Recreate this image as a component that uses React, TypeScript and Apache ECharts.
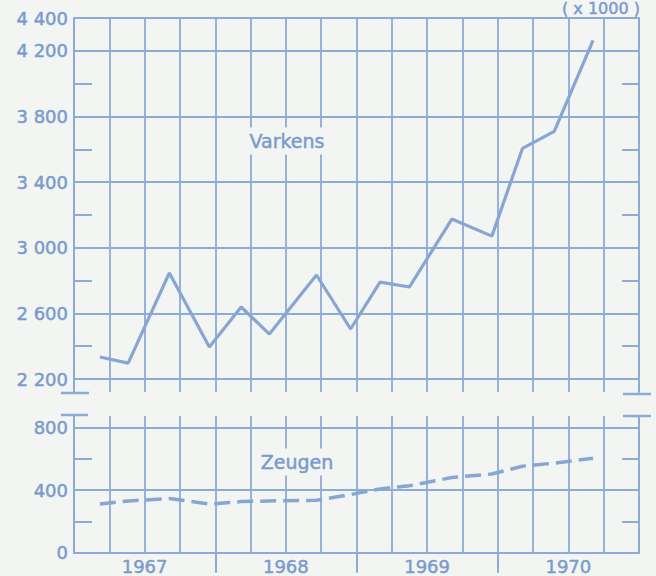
import React, { useEffect, useRef } from "react";
import * as echarts from "echarts";

// months since 1 Jan 1967 of each census
const censusMonth = [2.2, 4.6, 8.1, 11.5, 14.2, 16.6, 20.6, 23.5, 26.0, 28.5, 32.1, 35.5, 38.1, 40.8, 44.1];
// pigs (x 1000)
const varkens = [2334, 2297, 2846, 2395, 2639, 2474, 2834, 2505, 2791, 2761, 3175, 3071, 3605, 3709, 4263];
// sows (x 1000)
const zeugen = [311, 331, 347, 311, 327, 331, 335, 372, 408, 428, 481, 503, 553, 573, 604];

const years = ["1967", "1968", "1969", "1970"];
const yearCenters = [6, 18, 30, 42];
const yearBounds = [12, 24, 36];
const varkensTicks = [2200, 2600, 3000, 3400, 3800, 4200, 4400];
const varkensMinor = [2400, 2800, 3200, 3600, 4000];
const zeugenTicks = [0, 400, 800];
const zeugenMinor = [200, 600];

const BG = "#f3f5f2";
const GRID = "#8dabd7";
const LINE = "#87a6d3";
const TEXT = "#7b9bcd";
const FONT = "DejaVu Sans";

const fmt = (v: number) =>
  v >= 1000 ? Math.floor(v / 1000) + " " + String(v % 1000).padStart(3, "0") : String(v);

const labelStyle = {
  color: TEXT,
  fontFamily: FONT,
  fontSize: 18,
  textBorderColor: TEXT,
  textBorderWidth: 0.5,
};

export default function App() {
  const ref = useRef<HTMLDivElement>(null);
  useEffect(() => {
    if (!ref.current) return;
    const chart = echarts.init(ref.current, null, { renderer: "svg" });
    const yLeft = (grid: number, min: number, max: number, labels: number[], minor: number[]) => ({
      type: "value",
      gridIndex: grid,
      min,
      max,
      position: "left",
      axisLine: { show: true, onZero: false, lineStyle: { color: GRID, width: 2 } },
      axisTick: { show: true, inside: true, length: 18, customValues: minor, lineStyle: { color: GRID, width: 2 } },
      axisLabel: {
        show: true,
        customValues: labels,
        formatter: (v: number) => fmt(v),
        margin: 6,
        ...labelStyle,
      },
      splitLine: { show: false },
    });
    const yRight = (grid: number, min: number, max: number, minor: number[]) => ({
      type: "value",
      gridIndex: grid,
      min,
      max,
      position: "right",
      axisLine: { show: true, onZero: false, lineStyle: { color: GRID, width: 2 } },
      axisTick: { show: true, inside: true, length: 17, customValues: minor, lineStyle: { color: GRID, width: 2 } },
      axisLabel: { show: false },
      splitLine: { show: false },
    });
    const hLines = (vals: number[]) => ({
      silent: true,
      symbol: ["none", "none"],
      label: { show: false },
      lineStyle: { color: GRID, width: 1.8, type: "solid" },
      emphasis: { disabled: true },
      data: vals.map((v) => ({ yAxis: v })),
    });
    const textEl = (text: string, x: number, y: number, size: number, bg: boolean) => ({
      type: "text",
      x,
      y,
      z: 5,
      style: {
        text,
        fill: TEXT,
        font: `${size}px "${FONT}"`,
        align: "center",
        verticalAlign: "middle",
        stroke: TEXT,
        lineWidth: 0.5,
        ...(bg ? { backgroundColor: BG, padding: [4, 5] } : {}),
      },
    });
    chart.setOption({
      animation: false,
      backgroundColor: BG,
      grid: [
        { left: 74, right: 17, top: 18, bottom: 184 },
        { left: 74, right: 17, top: 416, bottom: 18 },
      ],
      xAxis: [
        {
          type: "value",
          gridIndex: 0,
          min: 0,
          max: 48,
          interval: 3,
          axisLine: { show: false, onZero: false },
          axisTick: { show: false },
          axisLabel: { show: false },
          splitLine: { show: true, lineStyle: { color: GRID, width: 1.8 } },
        },
        {
          type: "value",
          gridIndex: 1,
          min: 0,
          max: 48,
          interval: 3,
          axisLine: { show: false, onZero: false },
          axisTick: { show: false },
          axisLabel: { show: false },
          splitLine: { show: true, lineStyle: { color: GRID, width: 1.8 } },
        },
        {
          type: "value",
          gridIndex: 1,
          min: 0,
          max: 48,
          position: "bottom",
          axisLine: { show: true, onZero: false, lineStyle: { color: GRID, width: 2 } },
          axisTick: { show: true, customValues: yearBounds, length: 20, lineStyle: { color: GRID, width: 2 } },
          axisLabel: {
            show: true,
            customValues: yearCenters,
            formatter: (v: number) => years[yearCenters.indexOf(v)] ?? "",
            margin: 5,
            ...labelStyle,
          },
          splitLine: { show: false },
        },
      ],
      yAxis: [
        yLeft(0, 2121, 4400, varkensTicks, varkensMinor),
        yRight(0, 2121, 4400, varkensMinor),
        yLeft(1, 0, 874, zeugenTicks, zeugenMinor),
        yRight(1, 0, 874, zeugenMinor),
      ],
      series: [
        {
          type: "line",
          xAxisIndex: 0,
          yAxisIndex: 0,
          data: [],
          z: 1,
          markLine: hLines(varkensTicks),
        },
        {
          type: "line",
          xAxisIndex: 1,
          yAxisIndex: 2,
          data: [],
          z: 1,
          markLine: hLines([400, 800]),
        },
        {
          name: "Varkens",
          type: "line",
          xAxisIndex: 0,
          yAxisIndex: 0,
          z: 10,
          symbol: "none",
          data: censusMonth.map((m, i) => [m, varkens[i]]),
          lineStyle: { color: LINE, width: 3.2 },
        },
        {
          name: "Zeugen",
          type: "line",
          xAxisIndex: 1,
          yAxisIndex: 2,
          z: 10,
          symbol: "none",
          data: censusMonth.map((m, i) => [m, zeugen[i]]),
          lineStyle: { color: LINE, width: 3.5, type: [16, 7] },
        },
      ],
      graphic: [
        textEl("Varkens", 287, 141, 19, true),
        textEl("Zeugen", 297, 462, 19, true),
        textEl("( x 1000 )", 601, 8, 16, false),
        { type: "line", z: 5, shape: { x1: 61, y1: 393, x2: 89, y2: 393 }, style: { stroke: GRID, lineWidth: 2.5 } },
        { type: "line", z: 5, shape: { x1: 61, y1: 415, x2: 88, y2: 415 }, style: { stroke: GRID, lineWidth: 2.5 } },
        { type: "line", z: 5, shape: { x1: 623, y1: 394, x2: 651, y2: 394 }, style: { stroke: GRID, lineWidth: 2.5 } },
        { type: "line", z: 5, shape: { x1: 623, y1: 416, x2: 651, y2: 416 }, style: { stroke: GRID, lineWidth: 2.5 } },
      ],
    });
    return () => chart.dispose();
  }, []);
  return (
    <div
      ref={ref}
      style={{ position: "fixed", left: 0, top: 0, width: 656, height: 576, background: BG }}
    />
  );
}
